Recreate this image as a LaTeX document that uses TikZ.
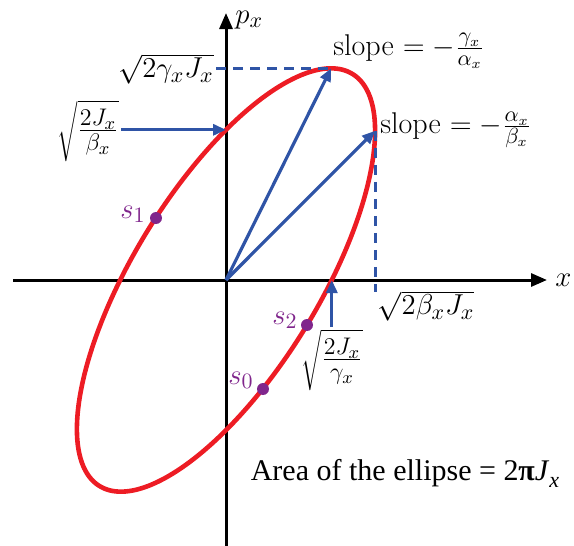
\documentclass[tikz,border=0pt]{standalone}
\usepackage{fontspec}
\newfontfamily\timesfont{Liberation Serif}
\usetikzlibrary{arrows.meta}
\definecolor{ered}{RGB}{237,28,36}
\definecolor{eblue}{RGB}{47,84,166}
\definecolor{epurple}{RGB}{128,38,140}
\begin{document}
\begin{tikzpicture}[x=0.5pt,y=-0.5pt,
  axis/.style={line width=1.5pt,-{Triangle[length=8pt,width=6.5pt]}},
  bluearrow/.style={eblue,line width=1.6pt,-{Triangle[length=6.5pt,width=5.5pt]}},
  bluedash/.style={eblue,line width=1.6pt,dash pattern=on 5pt off 3.5pt},
  lbl/.style={font=\fontsize{15}{18}\selectfont,inner sep=1pt},
  rootlbl/.style={font=\fontsize{18}{21}\selectfont,inner sep=1pt},
  dot/.style={circle,fill=epurple,inner sep=0pt,minimum size=6pt},
  slbl/.style={text=epurple,font=\fontsize{15}{18}\selectfont,inner sep=0pt}]
\useasboundingbox (0,0) rectangle (574,546);
\coordinate (O) at (226,280);
\coordinate (xs) at (13,280);
\coordinate (xe) at (547,280);
\coordinate (ys) at (226,546);
\coordinate (ye) at (226,13);
\draw[axis] (xs) -- (xe);
\draw[axis] (ys) -- (ye);
\node[lbl,anchor=west] (xl) at (553,280) {$x$};
\node[lbl,anchor=west] (pl) at (233,20) {$p_x$};
% ellipse
\draw[ered,line width=2.3pt] plot[domain=0:357,samples=120,smooth cycle]
  ({226+149.1*cos(\x)},{280-150.2*(0.993*cos(\x)-sin(\x))});
\coordinate (top) at (331.1,68.3);
\coordinate (rgt) at (375.1,130.8);
\coordinate (xc) at (331.8,280);
\coordinate (yc) at (226,129.8);
\coordinate (dashend) at (375.1,292);
% labels
\node[lbl,anchor=east] (g) at (216,69) {$\sqrt{2\gamma_x J_x}$};
\node[rootlbl,anchor=east] (bn) at (121,131) {$\sqrt{\frac{2J_x}{\beta_x}}$};
\node[lbl] (b) at (426,306) {$\sqrt{2\beta_x J_x}$};
\node[rootlbl] (gn) at (332,360) {$\sqrt{\frac{2J_x}{\gamma_x}}$};
\node[lbl,anchor=west] (sl1) at (331,51) {slope $=-\frac{\gamma_x}{\alpha_x}$};
\node[lbl,anchor=west] (sl2) at (378,130) {slope $=-\frac{\alpha_x}{\beta_x}$};
\node[lbl] (area) at (405,473) {\timesfont Area of the ellipse = 2\textbf{π}\textit{J}\raisebox{-0.5ex}{\textit{\fontsize{11}{12}\selectfont x}}};
% connectors
\draw[bluedash] (g.east |- top) -- (top);
\draw[bluedash] (rgt) -- (dashend);
\draw[bluearrow] (O) -- (top);
\draw[bluearrow] (O) -- (rgt);
\draw[bluearrow] (bn.east |- yc) -- (yc);
\draw[bluearrow] (gn.north -| xc) -- (xc);
% points
\node[dot] (p1) at (156,218) {};
\node[dot] (p2) at (307,325) {};
\node[dot] (p0) at (263,389) {};
\node[slbl,anchor=east] (s1) at (146,214) {$s_1$};
\node[slbl,anchor=east] (s2) at (298,320) {$s_2$};
\node[slbl,anchor=east] (s0) at (254,380) {$s_0$};
\end{tikzpicture}
\end{document}
